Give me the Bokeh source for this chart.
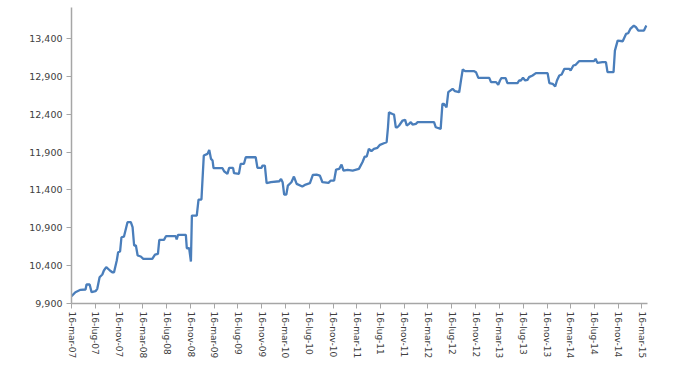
from datetime import datetime
import pandas as pd
from bokeh.plotting import figure
from bokeh.models import FixedTicker, NumeralTickFormatter, CustomJSTickFormatter, Range1d
from bokeh.embed import file_html
from bokeh.resources import INLINE

dates = [
    "2007-03-16", "2007-04-05", "2007-05-01", "2007-05-27", "2007-06-01", "2007-06-17", "2007-06-27",
    "2007-07-17", "2007-07-26", "2007-08-07", "2007-08-21", "2007-08-29", "2007-09-10", "2007-09-29",
    "2007-10-11", "2007-10-20", "2007-11-03", "2007-11-10", "2007-11-20", "2007-11-27", "2007-12-10",
    "2007-12-28", "2008-01-14", "2008-01-23", "2008-01-31", "2008-02-09", "2008-02-18", "2008-03-05",
    "2008-03-18", "2008-05-03", "2008-05-17", "2008-06-01", "2008-06-08", "2008-07-02", "2008-07-12",
    "2008-08-31", "2008-09-05", "2008-09-12", "2008-10-22", "2008-10-27", "2008-11-08", "2008-11-17",
    "2008-11-22", "2008-12-17", "2008-12-26", "2009-01-10", "2009-01-22", "2009-02-10", "2009-02-19",
    "2009-02-28", "2009-03-08", "2009-03-13", "2009-04-28", "2009-05-06", "2009-05-23", "2009-06-01",
    "2009-06-21", "2009-06-26", "2009-07-21", "2009-07-30", "2009-08-16", "2009-08-25", "2009-10-15",
    "2009-10-24", "2009-11-14", "2009-11-19", "2009-12-01", "2009-12-10", "2010-01-01", "2010-02-13",
    "2010-02-22", "2010-03-02", "2010-03-10", "2010-03-21", "2010-03-29", "2010-04-16", "2010-04-29",
    "2010-05-13", "2010-06-11", "2010-06-28", "2010-07-20", "2010-08-04", "2010-08-23", "2010-09-09",
    "2010-09-22", "2010-10-23", "2010-11-04", "2010-11-21", "2010-12-01", "2010-12-17", "2010-12-29",
    "2011-01-08", "2011-01-29", "2011-02-24", "2011-03-28", "2011-04-15", "2011-04-27", "2011-05-07",
    "2011-05-18", "2011-05-31", "2011-06-13", "2011-07-01", "2011-07-14", "2011-08-03", "2011-08-17",
    "2011-08-24", "2011-08-29", "2011-09-16", "2011-09-24", "2011-10-03", "2011-10-11", "2011-10-20",
    "2011-11-07", "2011-11-20", "2011-11-28", "2011-12-10", "2011-12-19", "2011-12-28", "2012-01-14",
    "2012-01-23", "2012-04-16", "2012-04-25", "2012-05-20", "2012-05-29", "2012-06-06", "2012-06-19",
    "2012-06-28", "2012-07-20", "2012-08-01", "2012-08-23", "2012-09-01", "2012-09-10", "2012-09-22",
    "2012-11-08", "2012-11-17", "2012-11-29", "2013-01-24", "2013-02-02", "2013-02-28", "2013-03-11",
    "2013-03-20", "2013-03-27", "2013-04-18", "2013-04-27", "2013-06-18", "2013-06-26", "2013-07-05",
    "2013-07-16", "2013-07-27", "2013-08-08", "2013-08-16", "2013-09-03", "2013-09-20", "2013-11-19",
    "2013-11-28", "2013-12-15", "2013-12-28", "2014-01-06", "2014-01-18", "2014-01-30", "2014-02-13",
    "2014-03-10", "2014-03-17", "2014-03-31", "2014-04-12", "2014-04-29", "2014-07-15", "2014-07-23",
    "2014-08-01", "2014-08-27", "2014-09-14", "2014-09-22", "2014-10-23", "2014-10-30", "2014-11-13",
    "2014-12-09", "2014-12-26", "2015-01-06", "2015-01-17", "2015-02-04", "2015-02-15", "2015-02-27",
    "2015-03-28", "2015-04-09",
]

values = [
    9996, 10049, 10081, 10085, 10151, 10151, 10049,
    10062, 10094, 10247, 10283, 10336, 10380, 10336,
    10313, 10313, 10468, 10577, 10587, 10775, 10784,
    10974, 10974, 10908, 10666, 10666, 10534, 10521,
    10490, 10490, 10547, 10556, 10741, 10741, 10789,
    10789, 10745, 10807, 10807, 10630, 10630, 10455,
    11062, 11062, 11273, 11273, 11854, 11876, 11929,
    11810, 11788, 11687, 11687, 11647, 11613, 11692,
    11692, 11621, 11613, 11745, 11745, 11832, 11832,
    11692, 11692, 11722, 11722, 11489, 11502, 11515,
    11546, 11502, 11339, 11339, 11458, 11502, 11577,
    11480, 11445, 11471, 11489, 11599, 11603, 11590,
    11502, 11493, 11524, 11524, 11670, 11678, 11735,
    11656, 11665, 11656, 11678, 11766, 11841, 11841,
    11943, 11912, 11943, 11956, 11996, 12017, 12030,
    12228, 12426, 12404, 12395, 12228, 12228, 12251,
    12317, 12326, 12251, 12273, 12295, 12264, 12273,
    12295, 12295, 12228, 12207, 12538, 12538, 12490,
    12691, 12736, 12705, 12691, 12846, 12991, 12969,
    12969, 12956, 12881, 12881, 12824, 12824, 12789,
    12846, 12877, 12877, 12811, 12811, 12846, 12846,
    12881, 12846, 12855, 12890, 12912, 12943, 12943,
    12811, 12802, 12767, 12846, 12912, 12925, 13000,
    13000, 12978, 13044, 13053, 13101, 13101, 13132,
    13079, 13088, 13088, 12956, 12956, 13241, 13373,
    13364, 13461, 13470, 13527, 13571, 13549, 13505,
    13505, 13571,
]

tick_dates = [
    "2007-03-16", "2007-07-16", "2007-11-16", "2008-03-16", "2008-07-16", "2008-11-16",
    "2009-03-16", "2009-07-16", "2009-11-16", "2010-03-16", "2010-07-16", "2010-11-16",
    "2011-03-16", "2011-07-16", "2011-11-16", "2012-03-16", "2012-07-16", "2012-11-16",
    "2013-03-16", "2013-07-16", "2013-11-16", "2014-03-16", "2014-07-16", "2014-11-16",
    "2015-03-16",
]
tick_labels = [
    "16-mar-07", "16-lug-07", "16-nov-07", "16-mar-08", "16-lug-08", "16-nov-08",
    "16-mar-09", "16-lug-09", "16-nov-09", "16-mar-10", "16-lug-10", "16-nov-10",
    "16-mar-11", "16-lug-11", "16-nov-11", "16-mar-12", "16-lug-12", "16-nov-12",
    "16-mar-13", "16-lug-13", "16-nov-13", "16-mar-14", "16-lug-14", "16-nov-14",
    "16-mar-15",
]
y_ticks = [9900, 10400, 10900, 11400, 11900, 12400, 12900, 13400]

x = pd.to_datetime(dates)
tick_ms = [float(pd.Timestamp(d).value // 10**6) for d in tick_dates]

p = figure(width=677, height=366, x_axis_type="datetime",
           output_backend="svg", toolbar_location=None,
           min_border_left=71, min_border_right=30, min_border_top=7, min_border_bottom=63,
           x_range=Range1d(datetime(2007, 3, 16), datetime(2015, 4, 15)),
           y_range=Range1d(9900, 13810))

p.line(x, values, line_color="#4a7ebb", line_width=2.3)

p.outline_line_color = None
p.xgrid.visible = False
p.ygrid.visible = False
p.background_fill_color = "white"
p.border_fill_color = "white"

for ax in (p.xaxis[0], p.yaxis[0]):
    ax.axis_line_color = "#a6a6a6"
    ax.axis_line_width = 1.5
    ax.major_tick_line_color = "#a6a6a6"
    ax.major_tick_out = 5
    ax.major_tick_in = 0
    ax.minor_tick_line_color = None
    ax.major_label_text_color = "#404040"
    ax.major_label_text_font = "DejaVu Sans"

p.yaxis[0].ticker = FixedTicker(ticks=y_ticks)
p.yaxis[0].formatter = NumeralTickFormatter(format="0,0")
p.yaxis[0].major_label_text_font_size = "9.5px"
p.yaxis[0].major_label_standoff = 4

p.xaxis[0].ticker = FixedTicker(ticks=tick_ms)
p.xaxis[0].formatter = CustomJSTickFormatter(args=dict(tvals=tick_ms, tlabels=tick_labels), code="""
    let best = 0, bd = Infinity;
    for (let i = 0; i < tvals.length; i++) {
        const d = Math.abs(tvals[i] - tick);
        if (d < bd) { bd = d; best = i; }
    }
    return tlabels[best];
""")
p.xaxis[0].major_label_orientation = "vertical"
p.xaxis[0].major_label_text_font_size = "9px"
p.xaxis[0].major_label_standoff = 3

open("out.html", "w").write(file_html(p, INLINE))
